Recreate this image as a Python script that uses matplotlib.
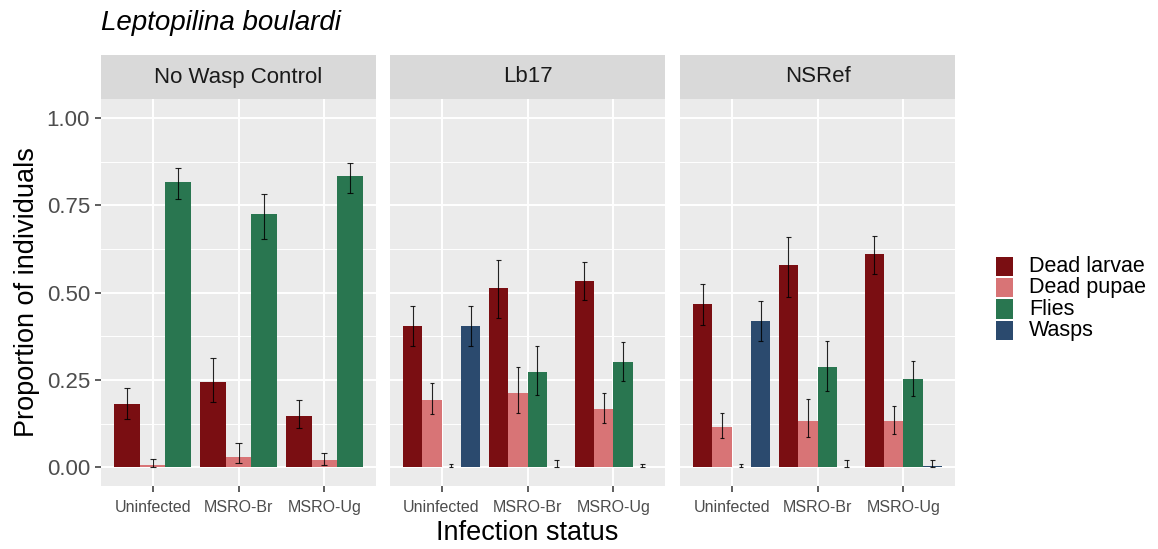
import matplotlib
matplotlib.use("Agg")
import matplotlib.pyplot as plt
import numpy as np
from matplotlib.patches import Rectangle

plt.rcParams['font.family'] = ['Liberation Sans', 'DejaVu Sans']

# ---------------- data ----------------
panels = ["No Wasp Control", "Lb17", "NSRef"]
categories = ["Uninfected", "MSRO-Br", "MSRO-Ug"]
series = ["Dead larvae", "Dead pupae", "Flies", "Wasps"]
colors = ["#7A0E12", "#D87476", "#297650", "#2B4A6E"]

# values[panel][category]; None = not present in that panel
dead_larvae    = [[0.181, 0.245, 0.148], [0.405, 0.514, 0.534], [0.468, 0.579, 0.611]]
dead_larvae_lo = [[0.138, 0.187, 0.112], [0.348, 0.428, 0.479], [0.408, 0.488, 0.554]]
dead_larvae_hi = [[0.227, 0.313, 0.193], [0.462, 0.594, 0.588], [0.525, 0.660, 0.662]]

dead_pupae     = [[0.006, 0.031, 0.021], [0.192, 0.213, 0.167], [0.116, 0.132, 0.133]]
dead_pupae_lo  = [[0.000, 0.013, 0.007], [0.152, 0.155, 0.126], [0.084, 0.086, 0.097]]
dead_pupae_hi  = [[0.023, 0.069, 0.042], [0.241, 0.288, 0.212], [0.157, 0.196, 0.176]]

flies          = [[0.818, 0.725, 0.833], [0.000, 0.273, 0.302], [0.000, 0.288, 0.253]]
flies_lo       = [[0.767, 0.653, 0.784], [0.000, 0.207, 0.247], [0.000, 0.219, 0.205]]
flies_hi       = [[0.856, 0.783, 0.872], [0.009, 0.348, 0.359], [0.009, 0.362, 0.305]]

wasps          = [None, [0.405, 0.000, 0.000], [0.419, 0.000, 0.003]]
wasps_lo       = [None, [0.348, 0.000, 0.000], [0.362, 0.000, 0.000]]
wasps_hi       = [None, [0.462, 0.021, 0.009], [0.476, 0.021, 0.021]]

values = [dead_larvae, dead_pupae, flies, wasps]
lows = [dead_larvae_lo, dead_pupae_lo, flies_lo, wasps_lo]
highs = [dead_larvae_hi, dead_pupae_hi, flies_hi, wasps_hi]

yticks = [0.0, 0.25, 0.5, 0.75, 1.0]
yticklabels = ["0.00", "0.25", "0.50", "0.75", "1.00"]

# ---------------- layout ----------------
W, H = 1158, 549
fig = plt.figure(figsize=(W / 100, H / 100), dpi=100)

def fx(px):
    return px / W

def fy(py):
    return 1 - py / H

panel_left = [101, 390, 680]
panel_w = 275
panel_top, panel_bot = 99, 486
strip_top = 55

BG = "#EBEBEB"
x = np.arange(len(categories))

for p, name in enumerate(panels):
    ax = fig.add_axes([fx(panel_left[p]), fy(panel_bot), panel_w / W, (panel_bot - panel_top) / H])
    ax.set_facecolor(BG)
    for s in ax.spines.values():
        s.set_visible(False)
    ax.set_xlim(-0.6, 2.6)
    ax.set_ylim(-0.053, 1.054)
    # grid
    for yv in [0.125, 0.375, 0.625, 0.875]:
        ax.axhline(yv, color="white", lw=0.7, zorder=0)
    for yv in yticks:
        ax.axhline(yv, color="white", lw=1.4, zorder=0)
    for xv in x:
        ax.axvline(xv, color="white", lw=1.4, zorder=0)

    present = [k for k in range(len(series)) if values[k][p] is not None]
    n = len(present)
    bw = 0.9 / n
    for j, k in enumerate(present):
        off = -0.45 + bw * (j + 0.5)
        xs = x + off
        ax.bar(xs, values[k][p], width=bw, color=colors[k], zorder=2, linewidth=0)
        cap = 0.21 / n
        lo = np.array(lows[k][p])
        hi = np.array(highs[k][p])
        ax.vlines(xs, lo, hi, color="black", lw=0.8, alpha=0.85, zorder=3)
        ax.hlines(lo, xs - cap / 2, xs + cap / 2, color="black", lw=0.8, alpha=0.85, zorder=3)
        ax.hlines(hi, xs - cap / 2, xs + cap / 2, color="black", lw=0.8, alpha=0.85, zorder=3)

    ax.set_xticks(x)
    ax.set_xticklabels(categories, fontsize=11.5, color="#4D4D4D")
    ax.tick_params(axis="x", length=4, width=1.1, color="#333333", pad=6)
    ax.set_yticks(yticks)
    if p == 0:
        ax.set_yticklabels(yticklabels, fontsize=16, color="#4D4D4D")
        ax.tick_params(axis="y", length=4, width=1.1, color="#333333", pad=4)
    else:
        ax.set_yticklabels([])
        ax.tick_params(axis="y", length=0)

    # strip
    sax = fig.add_axes([fx(panel_left[p]), fy(panel_top), panel_w / W, (panel_top - strip_top) / H])
    sax.set_facecolor("#D9D9D9")
    for s in sax.spines.values():
        s.set_visible(False)
    sax.set_xticks([])
    sax.set_yticks([])
    sax.text(0.5, 0.5, name, ha="center", va="center", fontsize=16, color="#1A1A1A",
             transform=sax.transAxes)

# titles / labels
fig.text(fx(101), fy(30), "Leptopilina boulardi", fontsize=20, style="italic",
         ha="left", va="baseline", color="black")
fig.text(fx(527.5), fy(533), "Infection status", fontsize=19.5, ha="center", va="center")
fig.text(fx(27), fy(292.5), "Proportion of individuals", fontsize=19.5, ha="center",
         va="center", rotation=90)

# legend
key_x, key_w, key_h = 996, 17, 19.5
first_center, pitch = 266.3, 21.4
for k, lab in enumerate(series):
    cy = first_center + k * pitch
    fig.patches.append(Rectangle((fx(key_x), fy(cy + key_h / 2)), key_w / W, key_h / H,
                                 transform=fig.transFigure, facecolor=colors[k],
                                 edgecolor="none"))
    fig.text(fx(1029), fy(cy), lab, fontsize=15.5, ha="left", va="center")

fig.savefig("out.png", dpi=100)
